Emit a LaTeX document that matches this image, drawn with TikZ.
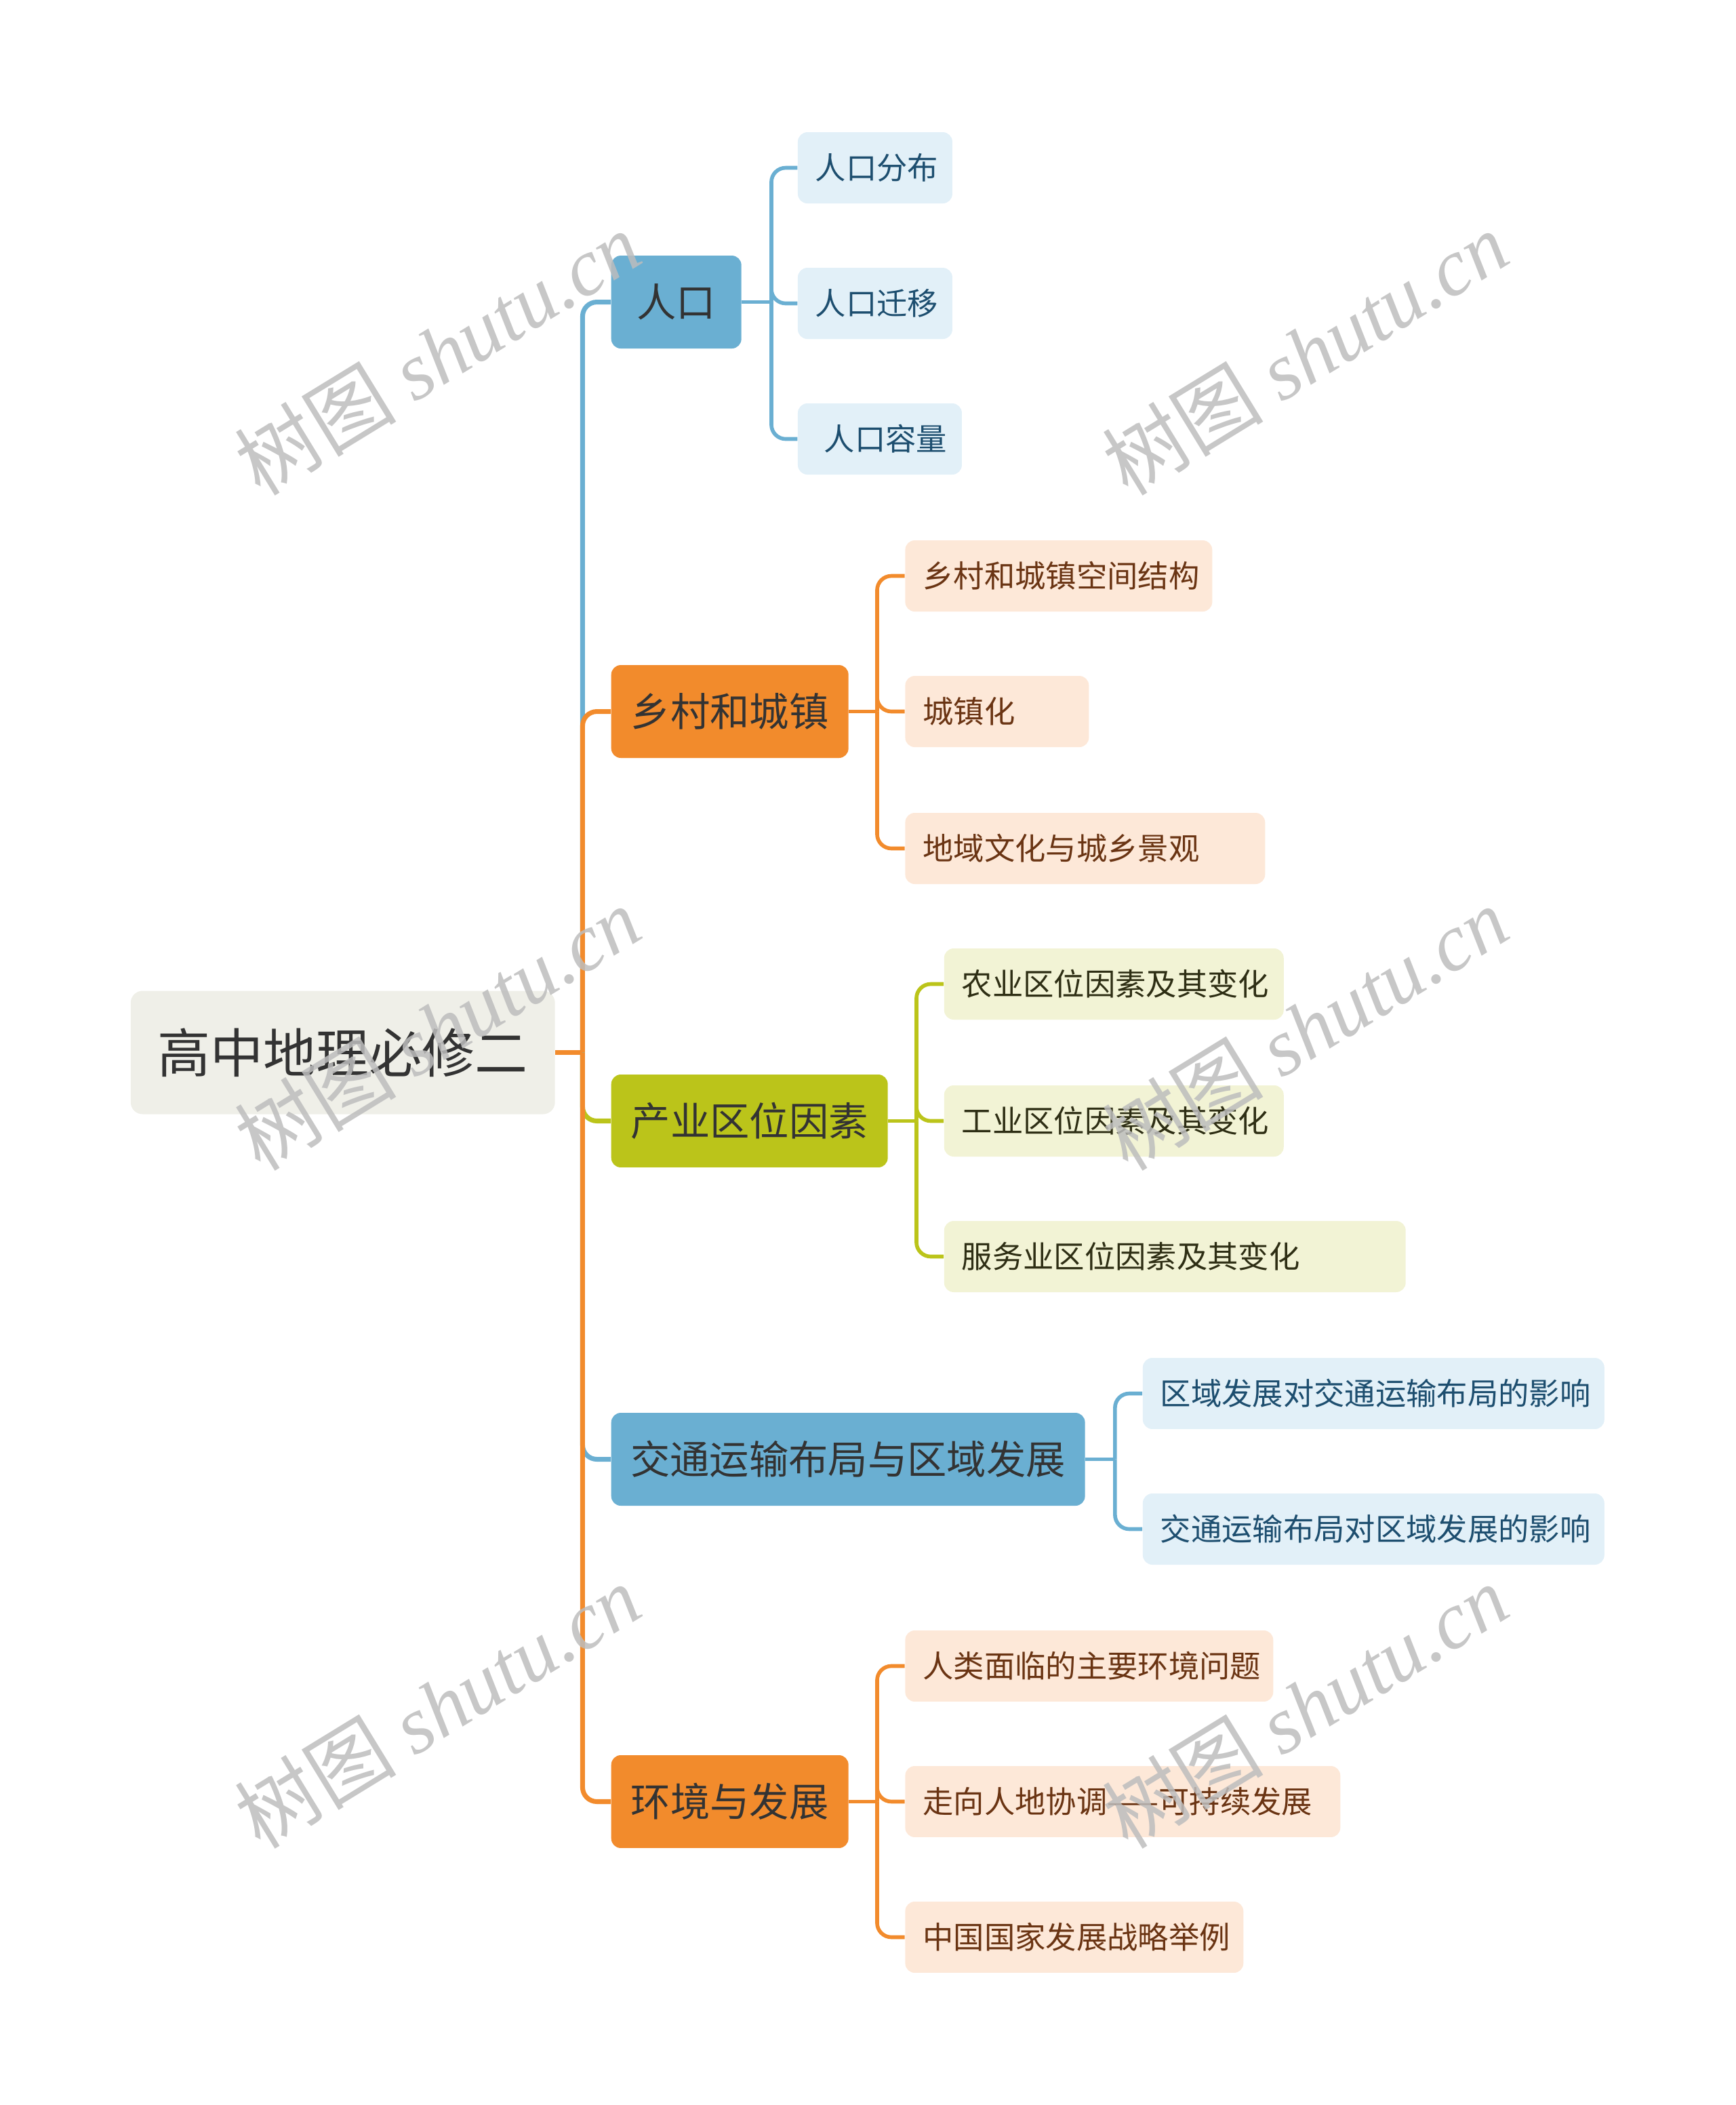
\documentclass[tikz,border=0pt]{standalone}
\usepackage{fontspec}
\setmainfont{Noto Sans CJK SC}
\newfontfamily\wmlatin{Liberation Serif}
\usetikzlibrary{positioning}
\definecolor{rootfill}{HTML}{EFEFE8}
\definecolor{inkdark}{HTML}{333333}
\definecolor{popblue}{HTML}{6AAFD2}
\definecolor{popbg}{HTML}{E2F0F8}
\definecolor{popink}{HTML}{1D4E6F}
\definecolor{townorange}{HTML}{F28B2C}
\definecolor{townbg}{HTML}{FDE8D8}
\definecolor{townink}{HTML}{6A3413}
\definecolor{indgreen}{HTML}{BBC41A}
\definecolor{indbg}{HTML}{F2F3D5}
\definecolor{indink}{HTML}{2E2E14}
\definecolor{wmgray}{HTML}{BDBDBD}
\tikzset{
  rootbox/.style={anchor=west, fill=rootfill, text=inkdark, rounded corners=5pt,
    minimum width=62.6mm, minimum height=18.2mm, font=\fontsize{22.2}{24}\selectfont},
  topicbox/.style={anchor=west, fill=#1, text=inkdark, rounded corners=4pt,
    minimum height=13.7mm, inner xsep=2mm, font=\fontsize{16.6}{18}\selectfont},
  leafbox/.style={anchor=west, rounded corners=4pt, minimum height=10.5mm,
    inner xsep=2.6mm, align=left, font=\fontsize{12.9}{14}\selectfont},
  popleafbox/.style={leafbox, fill=popbg, text=popink},
  townleafbox/.style={leafbox, fill=townbg, text=townink},
  indleafbox/.style={leafbox, fill=indbg, text=indink},
  trunk/.style={line width=2pt, rounded corners=6pt, draw=#1},
  twig/.style={line width=1.6pt, rounded corners=6pt, draw=#1},
  wmtext/.style={text=wmgray, text opacity=0.85, rotate=31.5, font=\fontsize{34}{36}\selectfont}
}
\begin{document}
\begin{tikzpicture}[x=0.0198cm, y=-0.0198cm]
\useasboundingbox (0,0) rectangle (1293,1568);
\node[rootbox] (root) at (97,784) {高中地理必修二};
\coordinate (hub) at (434,784);

\node[topicbox=popblue, minimum width=19.2mm] (renkou) at (455,225) {人口};
\node[topicbox=townorange, minimum width=35mm] (xiangcun) at (455,530) {乡村和城镇};
\node[topicbox=indgreen, minimum width=40.8mm] (chanye) at (455,835) {产业区位因素};
\node[topicbox=popblue, minimum width=69.9mm] (jiaotong) at (455,1087) {交通运输布局与区域发展};
\node[topicbox=townorange, minimum width=35mm] (huanjing) at (455,1342) {环境与发展};

\node[popleafbox, text width=17.6mm] (fenbu) at (594,125) {人口分布};
\node[popleafbox, text width=17.6mm] (qianyi) at (594,226) {人口迁移};
\node[popleafbox, text width=19mm] (rongliang) at (594,327) {\hspace*{1.3mm}人口容量};
\node[townleafbox, text width=40.1mm] (kongjian) at (674,429) {乡村和城镇空间结构};
\node[townleafbox, text width=21.9mm] (chengzhen) at (674,530) {城镇化};
\node[townleafbox, text width=47.9mm] (jingguan) at (674,632) {地域文化与城乡景观};
\node[indleafbox, text width=44.9mm] (nongye) at (703,733) {农业区位因素及其变化};
\node[indleafbox, text width=44.9mm] (gongye) at (703,835) {工业区位因素及其变化};
\node[indleafbox, text width=62.9mm] (fuwu) at (703,936) {服务业区位因素及其变化};
\node[popleafbox, text width=62.9mm] (duijiaotong) at (851,1038) {区域发展对交通运输布局的影响};
\node[popleafbox, text width=62.9mm] (duiquyu) at (851,1139) {交通运输布局对区域发展的影响};
\node[townleafbox, text width=49.1mm] (wenti) at (674,1241) {人类面临的主要环境问题};
\node[townleafbox, text width=59mm] (kechixu) at (674,1342) {走向人地协调——可持续发展};
\node[townleafbox, text width=44.7mm] (zhanlve) at (674,1443) {中国国家发展战略举例};

\draw[trunk=popblue] (hub) |- (renkou.west);
\draw[trunk=townorange] (hub) |- (xiangcun.west);
\draw[trunk=indgreen] (hub) |- (chanye.west);
\draw[trunk=popblue] (hub) |- (jiaotong.west);
\draw[trunk=townorange] (hub) |- (huanjing.west);
\draw[trunk=townorange] (root.east) -- (hub);

\draw[twig=popblue] (renkou.east) -- ++(22,0) coordinate (renkou-j);
\foreach \leaf in {fenbu,qianyi,rongliang} \draw[twig=popblue] (renkou-j) |- (\leaf.west);
\draw[twig=townorange] (xiangcun.east) -- ++(21,0) coordinate (xiangcun-j);
\foreach \leaf in {kongjian,chengzhen,jingguan} \draw[twig=townorange] (xiangcun-j) |- (\leaf.west);
\draw[twig=indgreen] (chanye.east) -- ++(21,0) coordinate (chanye-j);
\foreach \leaf in {nongye,gongye,fuwu} \draw[twig=indgreen] (chanye-j) |- (\leaf.west);
\draw[twig=popblue] (jiaotong.east) -- ++(22,0) coordinate (jiaotong-j);
\foreach \leaf in {duijiaotong,duiquyu} \draw[twig=popblue] (jiaotong-j) |- (\leaf.west);
\draw[twig=townorange] (huanjing.east) -- ++(21,0) coordinate (huanjing-j);
\foreach \leaf in {wenti,kechixu,zhanlve} \draw[twig=townorange] (huanjing-j) |- (\leaf.west);

% watermark
\foreach \wx/\wy [count=\i] in {326/263, 972/263, 326/766, 972/766, 326/1271, 972/1271}
  \node[wmtext] (wm\i) at (\wx,\wy) {树图 {\wmlatin\itshape shutu.cn}};
\end{tikzpicture}
\end{document}
